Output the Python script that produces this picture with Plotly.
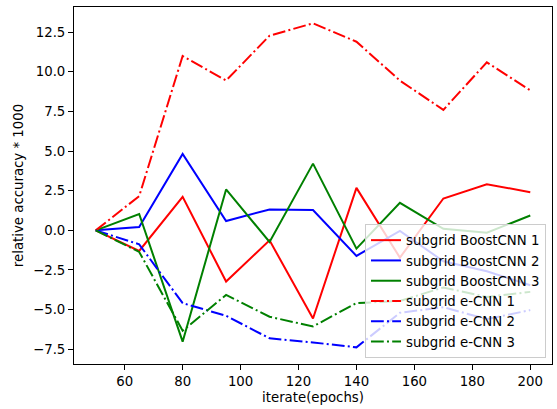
import plotly.graph_objects as go

epochs = [50, 65, 80, 95, 110, 125, 140, 155, 170, 185, 200]

boost1 = [0.0, -1.30, 2.12, -3.23, -0.63, -5.56, 2.68, -1.72, 2.01, 2.91, 2.41]
boost2 = [0.0, 0.21, 4.82, 0.59, 1.32, 1.28, -1.61, -0.04, -1.95, -2.58, -3.46]
boost3 = [0.0, 1.03, -7.02, 2.58, -0.73, 4.21, -1.15, 1.74, 0.10, -0.15, 0.94]
ecnn1 = [0.0, 2.16, 11.0, 9.45, 12.28, 13.06, 11.9, 9.45, 7.6, 10.6, 8.83]
ecnn2 = [0.0, -0.88, -4.59, -5.39, -6.81, -7.07, -7.38, -5.2, -4.85, -5.6, -5.03]
ecnn3 = [0.0, -1.36, -6.33, -4.07, -5.45, -6.06, -4.59, -4.45, -3.6, -4.2, -3.88]

names = ["subgrid BoostCNN 1", "subgrid BoostCNN 2", "subgrid BoostCNN 3",
         "subgrid e-CNN 1", "subgrid e-CNN 2", "subgrid e-CNN 3"]
series = [boost1, boost2, boost3, ecnn1, ecnn2, ecnn3]
colors = ["#ff0000", "#0000ff", "#008000", "#ff0000", "#0000ff", "#008000"]
dd = "12.8px,3.2px,2px,3.2px"
dashes = ["solid", "solid", "solid", dd, dd, dd]

x_ticks = [60, 80, 100, 120, 140, 160, 180, 200]
y_ticks = [-7.5, -5.0, -2.5, 0.0, 2.5, 5.0, 7.5, 10.0, 12.5]
y_ticktext = [("\u2212" if v < 0 else "") + f"{abs(v):.1f}" for v in y_ticks]

fig = go.Figure()
for name, ys, c, d in zip(names, series, colors, dashes):
    fig.add_trace(go.Scatter(x=epochs, y=ys, mode="lines", name=name,
                             line=dict(color=c, width=2, dash=d)))

font = dict(family="DejaVu Sans", size=13.3, color="black")
fig.update_layout(
    width=557, height=409,
    margin=dict(l=74, r=5, t=7, b=45),
    paper_bgcolor="white", plot_bgcolor="white",
    font=font,
    showlegend=True,
    legend=dict(x=0.9874, y=0.0168, xanchor="right", yanchor="bottom",
                bgcolor="rgba(255,255,255,0.8)", bordercolor="#cccccc", borderwidth=1,
                font=font, tracegroupgap=0),
    xaxis=dict(range=[42.5, 207.5], tickvals=x_ticks, ticktext=[str(v) for v in x_ticks],
               showgrid=False, zeroline=False, showline=True, linecolor="black", linewidth=1,
               mirror=True, ticks="outside", ticklen=5, tickwidth=1, tickcolor="black",
               title=dict(text="iterate(epochs)", font=font, standoff=4)),
    yaxis=dict(range=[-8.43, 14.09], tickvals=y_ticks, ticktext=y_ticktext,
               showgrid=False, zeroline=False, showline=True, linecolor="black", linewidth=1,
               mirror=True, ticks="outside", ticklen=5, tickwidth=1, tickcolor="black",
               title=dict(text="relative accuracy * 1000", font=font, standoff=6)),
)

fig.write_html("out.html", config={"displayModeBar": False},
               post_script="document.body.style.margin='0';document.body.style.padding='0';")
